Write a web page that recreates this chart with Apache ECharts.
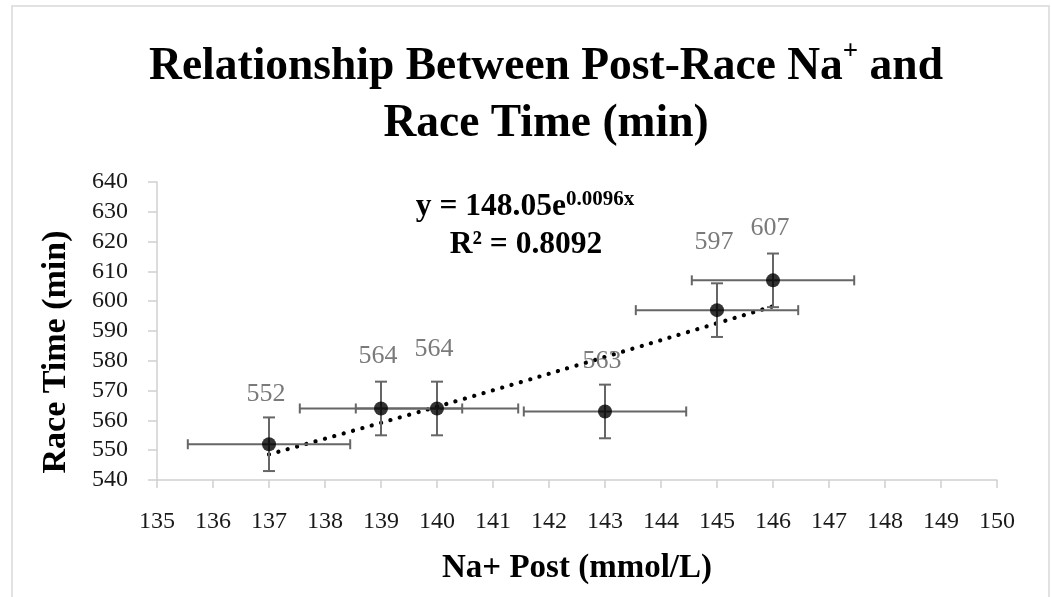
<!DOCTYPE html>
<html>
<head>
<meta charset="utf-8">
<script src="https://cdn.jsdelivr.net/npm/echarts@6/dist/echarts.min.js"></script>
<style>
html,body{margin:0;padding:0;background:#fff;}
#chart{width:1052px;height:597px;}
</style>
</head>
<body>
<div id="chart"></div>
<script>
// ---- data ----
var naPost = [137, 139, 140, 143, 145, 146];
var raceTime = [552, 564, 564, 563, 597, 607];
var naErr = [1.45, 1.45, 1.45, 1.45, 1.45, 1.45];
var timeErr = [9, 9, 9, 9, 9, 9];
var trendX = [137, 139, 141, 143, 145, 146];
var trendY = [548.6, 559.2, 570.1, 581.3, 592.6, 598.3];
var xTicks = [135, 136, 137, 138, 139, 140, 141, 142, 143, 144, 145, 146, 147, 148, 149, 150];
var yTicks = [540, 550, 560, 570, 580, 590, 600, 610, 620, 630, 640];

// ---- styling ----
var FONT = '"Liberation Serif", "DejaVu Serif", serif';
var labelExtraLift = [0, 2, 9, 0, 18, 2];

var chart = echarts.init(document.getElementById('chart'));

var pointData = naPost.map(function (x, i) {
  return {
    value: [x, raceTime[i]],
    label: { offset: [-3, -labelExtraLift[i]] }
  };
});
var errData = naPost.map(function (x, i) {
  return [x, raceTime[i], naErr[i], timeErr[i]];
});
var trendData = trendX.map(function (x, i) { return [x, trendY[i]]; });

function renderErr(params, api) {
  var x = api.value(0), y = api.value(1), xe = api.value(2), ye = api.value(3);
  var L = api.coord([x - xe, y]);
  var R = api.coord([x + xe, y]);
  var T = api.coord([x, y + ye]);
  var B = api.coord([x, y - ye]);
  var st = { stroke: '#666666', lineWidth: 2 };
  var capH = 5, capV = 6;
  return {
    type: 'group',
    children: [
      { type: 'line', shape: { x1: L[0], y1: L[1], x2: R[0], y2: R[1] }, style: st },
      { type: 'line', shape: { x1: L[0], y1: L[1] - capH, x2: L[0], y2: L[1] + capH }, style: st },
      { type: 'line', shape: { x1: R[0], y1: R[1] - capH, x2: R[0], y2: R[1] + capH }, style: st },
      { type: 'line', shape: { x1: T[0], y1: T[1], x2: B[0], y2: B[1] }, style: st },
      { type: 'line', shape: { x1: T[0] - capV, y1: T[1], x2: T[0] + capV, y2: T[1] }, style: st },
      { type: 'line', shape: { x1: B[0] - capV, y1: B[1], x2: B[0] + capV, y2: B[1] }, style: st }
    ]
  };
}

var option = {
  backgroundColor: '#fff',
  animation: false,
  title: {
    text: '{a|Relationship Between Post-Race Na}{s|+}{a| and}\n{a|Race Time (min)}',
    left: 546,
    top: 39,
    padding: 0,
    textAlign: 'center',
    textStyle: {
      rich: {
        a: { fontFamily: FONT, fontWeight: 'bold', fontSize: 45.5, color: '#000', lineHeight: 57, align: 'center' },
        s: { fontFamily: FONT, fontWeight: 'bold', fontSize: 27, color: '#000', lineHeight: 57, verticalAlign: 'top', padding: [0, 0, 20, 0] }
      }
    }
  },
  grid: { left: 157, right: 55, top: 182, bottom: 117 },
  xAxis: {
    type: 'value',
    min: xTicks[0],
    max: xTicks[xTicks.length - 1],
    interval: 1,
    name: 'Na+ Post (mmol/L)',
    nameLocation: 'middle',
    nameGap: 72,
    nameTextStyle: { fontFamily: FONT, fontWeight: 'bold', fontSize: 33, color: '#000' },
    axisLine: { show: true, lineStyle: { color: '#d0d0d0', width: 1.5 } },
    axisTick: { show: true, inside: false, length: 8, lineStyle: { color: '#d0d0d0', width: 1.5 } },
    axisLabel: { fontFamily: FONT, fontSize: 24, color: '#1a1a1a', margin: 30 },
    splitLine: { show: false }
  },
  yAxis: {
    type: 'value',
    min: yTicks[0],
    max: yTicks[yTicks.length - 1],
    interval: 10,
    axisLine: { show: true, lineStyle: { color: '#d0d0d0', width: 1.5 } },
    axisTick: { show: true, inside: false, length: 9, lineStyle: { color: '#d0d0d0', width: 1.5 } },
    axisLabel: { fontFamily: FONT, fontSize: 24, color: '#1a1a1a', margin: 29 },
    splitLine: { show: false }
  },
  series: [
    {
      type: 'line',
      data: trendData,
      smooth: true,
      symbol: 'none',
      silent: true,
      z: 3,
      lineStyle: { color: '#000', width: 4.2, type: [0.1, 9.6], cap: 'round' }
    },
    {
      type: 'custom',
      data: errData,
      renderItem: renderErr,
      encode: { x: 0, y: 1 },
      z: 4,
      silent: true
    },
    {
      type: 'scatter',
      data: pointData,
      symbol: 'circle',
      symbolSize: 14,
      z: 5,
      itemStyle: { color: '#000' },
      label: {
        show: true,
        position: 'top',
        distance: 30,
        formatter: function (p) { return p.value[1]; },
        fontFamily: FONT,
        fontSize: 26,
        color: '#595959'
      }
    }
  ],
  graphic: [
    {
      type: 'rect',
      shape: { x: 12, y: 6, width: 1037, height: 620 },
      style: { fill: 'none', stroke: '#d9d9d9', lineWidth: 1.5 },
      z: -1,
      silent: true
    },
    {
      type: 'text',
      x: 56,
      y: 352,
      rotation: Math.PI / 2,
      style: {
        text: 'Race Time (min)',
        fontFamily: FONT, fontWeight: 'bold', fontSize: 34, fill: '#000',
        align: 'center', verticalAlign: 'middle'
      }
    },
    {
      type: 'text',
      x: 525,
      y: 207,
      style: {
        text: '{a|y = 148.05e}{s|0.0096x}',
        align: 'center',
        verticalAlign: 'middle',
        rich: {
          a: { fontFamily: FONT, fontWeight: 'bold', fontSize: 31.5, color: '#000', lineHeight: 36 },
          s: { fontFamily: FONT, fontWeight: 'bold', fontSize: 21, color: '#000', lineHeight: 36, verticalAlign: 'top', padding: [0, 0, 14, 0] }
        }
      }
    },
    {
      type: 'text',
      x: 526,
      y: 245,
      style: {
        text: 'R² = 0.8092',
        align: 'center',
        verticalAlign: 'middle',
        fontFamily: FONT, fontWeight: 'bold', fontSize: 31.5, fill: '#000'
      }
    }
  ]
};
chart.setOption(option);
</script>
</body>
</html>
